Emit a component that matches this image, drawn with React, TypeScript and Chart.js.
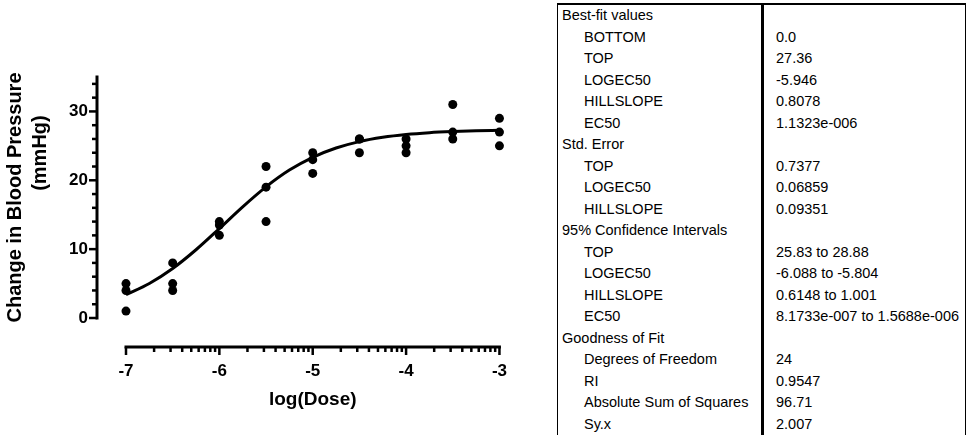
import React, { useEffect, useRef } from "react";
import { Chart, registerables } from "chart.js";

Chart.register(...registerables);

// ---- data ----
const doses = [-7, -6.5, -6, -5.5, -5, -4.5, -4, -3.5, -3];
const rep1 = [5, 8, 14, 22, 24, 26, 26, 31, 29];
const rep2 = [4, 5, 13.5, 19, 23, 26, 25, 27, 27];
const rep3 = [1, 4, 12, 14, 21, 24, 24, 26, 25];

const curveX = [-7, -6.75, -6.5, -6.25, -6, -5.75, -5.5, -5.25, -5, -4.75, -4.5, -4.25, -4, -3.75, -3.5, -3.25, -3];
const curveY = [3.38, 5.01, 7.19, 9.91, 12.99, 16.15, 19.05, 21.48, 23.34, 24.69, 25.62, 26.24, 26.65, 26.91, 27.07, 27.18, 27.25];

const xMajorTicks = [-7, -6, -5, -4, -3];
const yMajorTicks = [0, 10, 20, 30];
const yMinorTicks = [2, 4, 6, 8, 12, 14, 16, 18, 22, 24, 26, 28, 32, 34];
const logMinorMultipliers = [2, 3, 4, 5, 6, 7, 8, 9];

const tableLabels = [
  "Best-fit values", "BOTTOM", "TOP", "LOGEC50", "HILLSLOPE", "EC50",
  "Std. Error", "TOP", "LOGEC50", "HILLSLOPE",
  "95% Confidence Intervals", "TOP", "LOGEC50", "HILLSLOPE", "EC50",
  "Goodness of Fit", "Degrees of Freedom", "RI", "Absolute Sum of Squares", "Sy.x",
];
const tableValues = [
  "", "0.0", "27.36", "-5.946", "0.8078", "1.1323e-006",
  "", "0.7377", "0.06859", "0.09351",
  "", "25.83 to 28.88", "-6.088 to -5.804", "0.6148 to 1.001", "8.1733e-007 to 1.5688e-006",
  "", "24", "0.9547", "96.71", "2.007",
];
const tableIndent = [
  false, true, true, true, true, true,
  false, true, true, true,
  false, true, true, true, true,
  false, true, true, true, true,
];

const FONT = '"Liberation Sans", Arial, Helvetica, sans-serif';
const CANVAS_W = 550;
const CANVAS_H = 435;

const axesPlugin = {
  id: "prismAxes",
  afterDatasetsDraw(chart: any) {
    const { ctx, chartArea, scales } = chart;
    const x = scales.x;
    const y = scales.y;
    const yAxisX = chartArea.left - 29;
    const xAxisY = chartArea.bottom + 29;
    ctx.save();
    ctx.strokeStyle = "#000";
    ctx.lineCap = "butt";

    // y axis line
    ctx.lineWidth = 3;
    ctx.beginPath();
    ctx.moveTo(yAxisX, y.getPixelForValue(y.min) + 1.5);
    ctx.lineTo(yAxisX, y.getPixelForValue(y.max) - 1.5);
    ctx.stroke();

    // y ticks
    ctx.lineWidth = 2.5;
    yMajorTicks.forEach((v) => {
      const p = y.getPixelForValue(v);
      ctx.beginPath();
      ctx.moveTo(yAxisX, p);
      ctx.lineTo(yAxisX - 8, p);
      ctx.stroke();
    });
    yMinorTicks.forEach((v) => {
      const p = y.getPixelForValue(v);
      ctx.beginPath();
      ctx.moveTo(yAxisX, p);
      ctx.lineTo(yAxisX - 5, p);
      ctx.stroke();
    });

    // x axis line
    ctx.lineWidth = 3;
    ctx.beginPath();
    ctx.moveTo(x.getPixelForValue(x.min) - 1.5, xAxisY);
    ctx.lineTo(x.getPixelForValue(x.max) + 1.5, xAxisY);
    ctx.stroke();

    // x ticks
    ctx.lineWidth = 2.5;
    xMajorTicks.forEach((v) => {
      const p = x.getPixelForValue(v);
      ctx.beginPath();
      ctx.moveTo(p, xAxisY);
      ctx.lineTo(p, xAxisY + 8);
      ctx.stroke();
    });
    for (let d = 0; d < xMajorTicks.length - 1; d++) {
      logMinorMultipliers.forEach((m) => {
        const p = x.getPixelForValue(xMajorTicks[d] + Math.log10(m));
        ctx.beginPath();
        ctx.moveTo(p, xAxisY);
        ctx.lineTo(p, xAxisY + 5);
        ctx.stroke();
      });
    }
    ctx.restore();
  },
};

function DoseChart() {
  const ref = useRef<HTMLCanvasElement | null>(null);
  useEffect(() => {
    if (!ref.current) return;
    const points: { x: number; y: number }[] = [];
    doses.forEach((d, i) => {
      points.push({ x: d, y: rep1[i] });
      points.push({ x: d, y: rep2[i] });
      points.push({ x: d, y: rep3[i] });
    });
    const curve = curveX.map((v, i) => ({ x: v, y: curveY[i] }));
    const chart = new Chart(ref.current, {
      type: "scatter",
      data: {
        datasets: [
          {
            type: "line",
            data: curve,
            borderColor: "#000",
            borderWidth: 3,
            pointRadius: 0,
            cubicInterpolationMode: "monotone",
            fill: false,
            clip: false,
            order: 2,
          } as any,
          {
            data: points,
            backgroundColor: "#000",
            borderColor: "#000",
            borderWidth: 0,
            pointRadius: 4.5,
            pointHoverRadius: 4.5,
            clip: false,
            order: 1,
          } as any,
        ],
      },
      options: {
        animation: false,
        responsive: false,
        devicePixelRatio: 1,
        layout: { padding: { top: 77, right: CANVAS_W - 502, left: 0, bottom: 0 } },
        plugins: { legend: { display: false }, tooltip: { enabled: false } },
        scales: {
          x: {
            type: "linear",
            min: -7,
            max: -3,
            afterBuildTicks: (s: any) => {
              s.ticks = xMajorTicks.map((v) => ({ value: v }));
            },
            afterFit: (s: any) => {
              s.height = 117;
            },
            grid: { display: false, drawTicks: false },
            border: { display: false },
            ticks: {
              color: "#000",
              padding: 43,
              maxRotation: 0,
              font: { family: FONT, size: 17, weight: "bold" },
            },
            title: {
              display: true,
              text: "log(Dose)",
              color: "#000",
              font: { family: FONT, size: 19, weight: "bold", lineHeight: 1.2 },
              padding: { top: 0, bottom: 24 },
            },
          },
          y: {
            type: "linear",
            min: 0,
            max: 35,
            afterBuildTicks: (s: any) => {
              s.ticks = yMajorTicks.map((v) => ({ value: v }));
            },
            afterFit: (s: any) => {
              s.width = 126;
            },
            grid: { display: false, drawTicks: false },
            border: { display: false },
            ticks: {
              color: "#000",
              padding: 38,
              font: { family: FONT, size: 17, weight: "bold" },
            },
            title: {
              display: true,
              text: ["Change in Blood Pressure", "                (mmHg)"],
              color: "#000",
              font: { family: FONT, size: 20, weight: "bold", lineHeight: 1.25 },
              padding: { top: 2.5, bottom: 0 },
            },
          },
        },
      } as any,
      plugins: [axesPlugin],
    });
    return () => chart.destroy();
  }, []);
  return (
    <canvas
      ref={ref}
      width={CANVAS_W}
      height={CANVAS_H}
      style={{ position: "absolute", left: 0, top: 0, width: CANVAS_W, height: CANVAS_H }}
    />
  );
}

function ResultsTable() {
  const left = 557;
  const width = 409;
  const labelW = 204;
  const rowH = 21.5;
  return (
    <div
      style={{
        position: "absolute",
        left,
        top: 3,
        width,
        height: 440,
        borderTop: "2px solid #000",
        borderLeft: "1px solid #000",
        borderRight: "1px solid #000",
        boxSizing: "border-box",
        fontFamily: FONT,
        fontSize: 14.5,
        color: "#000",
      }}
    >
      <div
        style={{
          position: "absolute",
          left: labelW - 1,
          top: 0,
          width: 2.5,
          height: 440,
          background: "#000",
        }}
      />
      {tableLabels.map((lab, i) => (
        <div
          key={i}
          style={{ display: "flex", height: rowH, lineHeight: rowH + "px", whiteSpace: "nowrap" }}
        >
          <div style={{ width: labelW, paddingLeft: tableIndent[i] ? 26 : 4, boxSizing: "border-box" }}>
            {lab}
          </div>
          <div style={{ paddingLeft: 14 }}>{tableValues[i]}</div>
        </div>
      ))}
    </div>
  );
}

export default function App() {
  return (
    <div
      style={{
        position: "absolute",
        left: 0,
        top: 0,
        width: 973,
        height: 435,
        overflow: "hidden",
        background: "#fff",
      }}
    >
      <DoseChart />
      <ResultsTable />
    </div>
  );
}
